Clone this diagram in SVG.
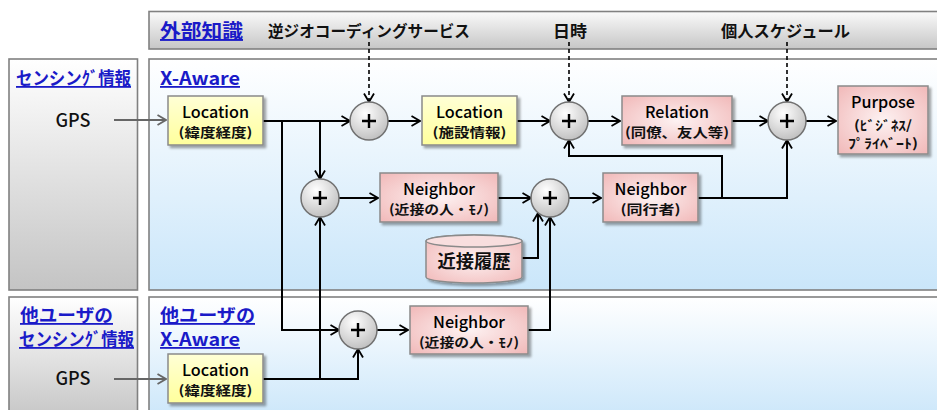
<svg xmlns="http://www.w3.org/2000/svg" width="937" height="410" viewBox="0 0 937 410">
<defs>
<linearGradient id="gGray" x1="0" y1="0" x2="0" y2="1"><stop offset="0" stop-color="#ffffff"/><stop offset="1" stop-color="#c4c4c4"/></linearGradient>
<linearGradient id="gBar" x1="0" y1="0" x2="0" y2="1"><stop offset="0" stop-color="#fafafa"/><stop offset="1" stop-color="#c6c6c6"/></linearGradient>
<linearGradient id="gBlue" x1="0" y1="0" x2="0" y2="1"><stop offset="0" stop-color="#ffffff"/><stop offset="1" stop-color="#cae6fa"/></linearGradient>
<linearGradient id="gYel" x1="0" y1="0" x2="0" y2="1"><stop offset="0" stop-color="#ffffd6"/><stop offset="1" stop-color="#ffff9c"/></linearGradient>
<radialGradient id="gPink" cx="0.5" cy="0.5" r="0.75"><stop offset="0" stop-color="#fdf2f2"/><stop offset="1" stop-color="#f0b4b4"/></radialGradient>
<radialGradient id="gCirc" cx="0.4" cy="0.3" r="0.75"><stop offset="0" stop-color="#ffffff"/><stop offset="1" stop-color="#bdbdbd"/></radialGradient>
<filter id="sh" x="-10%" y="-10%" width="130%" height="140%"><feDropShadow dx="2.5" dy="2.5" stdDeviation="1.2" flood-color="#000" flood-opacity="0.35"/></filter>
<marker id="arr" viewBox="0 0 10 12" refX="9.5" refY="6" markerWidth="10" markerHeight="12" markerUnits="userSpaceOnUse" orient="auto"><path d="M1,1 L9.5,6 L1,11" fill="none" stroke="#000" stroke-width="1.8"/></marker>
<marker id="arrG" viewBox="0 0 10 12" refX="9.5" refY="6" markerWidth="10" markerHeight="12" markerUnits="userSpaceOnUse" orient="auto"><path d="M1,1 L9.5,6 L1,11" fill="none" stroke="#666" stroke-width="1.8"/></marker>
</defs>
<style>
.panel{stroke:#808080;stroke-width:1.6}
.hdr{font-family:"Noto Sans CJK JP","Noto Sans",sans-serif;font-weight:bold;fill:#1a1ac8;text-decoration:underline}
.lbl{font-family:"Noto Sans CJK JP","Noto Sans",sans-serif;font-weight:bold;fill:#111}
.t{font-family:"Noto Sans CJK JP","Noto Sans",sans-serif;font-size:16px;font-weight:500;fill:#000;text-anchor:middle}
.s{font-family:"Noto Sans CJK JP","Noto Sans",sans-serif;font-size:13px;font-weight:bold;fill:#111;text-anchor:middle}
.yel{fill:url(#gYel);stroke:#8a8a8a;stroke-width:1.5;filter:url(#sh)}
.pink{fill:url(#gPink);stroke:#8a8a8a;stroke-width:1.5;filter:url(#sh)}
.circ{fill:url(#gCirc);stroke:#707070;stroke-width:1.5}
.plus{stroke:#000;stroke-width:2.4;fill:none}
.c{fill:none;stroke:#000;stroke-width:2;marker-end:url(#arr)}
.cg{fill:none;stroke:#666;stroke-width:2;marker-end:url(#arrG)}
.cd{fill:none;stroke:#000;stroke-width:1.6;stroke-dasharray:4 3;marker-end:url(#arr)}
</style>
<rect width="937" height="410" fill="#ffffff"/>

<g id="panels">
<rect id="bar" class="panel" x="149" y="11.5" width="800" height="37.5" fill="url(#gBar)"/>
<rect id="sensing" class="panel" x="9" y="59" width="128.5" height="231" fill="url(#gGray)"/>
<rect id="xaware" class="panel" x="149" y="59" width="800" height="231" fill="url(#gBlue)"/>
<rect id="sensing2" class="panel" x="9" y="297" width="128.5" height="125" fill="url(#gGray)"/>
<rect id="xaware2" class="panel" x="149" y="297" width="800" height="125" fill="url(#gBlue)"/>
</g>

<g id="labels">
<text class="hdr" x="160" y="38" font-size="19" textLength="83" lengthAdjust="spacingAndGlyphs">外部知識</text>
<text class="lbl" x="268" y="37" font-size="15.5" textLength="202" lengthAdjust="spacingAndGlyphs">逆ジオコーディングサービス</text>
<text class="lbl" x="553" y="37" font-size="16" textLength="34" lengthAdjust="spacingAndGlyphs">日時</text>
<text class="lbl" x="721" y="37" font-size="16" textLength="129" lengthAdjust="spacingAndGlyphs">個人スケジュール</text>
<text class="hdr" x="16" y="85" font-size="18" textLength="115" lengthAdjust="spacingAndGlyphs">センシンｸﾞ情報</text>
<text class="hdr" x="160" y="85" font-size="18" textLength="80" lengthAdjust="spacingAndGlyphs">X-Aware</text>
<text class="lbl" x="73" y="127" font-size="18" text-anchor="middle" style="font-weight:500">GPS</text>
<text class="hdr" x="20" y="322" font-size="18" textLength="93" lengthAdjust="spacingAndGlyphs">他ユーザの</text>
<text class="hdr" x="19" y="346" font-size="18" textLength="115" lengthAdjust="spacingAndGlyphs">センシンｸﾞ情報</text>
<text class="hdr" x="160" y="322" font-size="18" textLength="95" lengthAdjust="spacingAndGlyphs">他ユーザの</text>
<text class="hdr" x="160" y="346" font-size="18" textLength="80" lengthAdjust="spacingAndGlyphs">X-Aware</text>
<text class="lbl" x="73" y="385" font-size="18" text-anchor="middle" style="font-weight:500">GPS</text>
</g>

<g id="connectors">
<path class="cg" d="M114,120 H166"/>
<path class="cg" d="M114,379 H166"/>
<path class="c" d="M263,121 H350"/>
<path class="c" d="M282,121 V330 H339"/>
<path class="c" d="M320,121 V179"/>
<path class="c" d="M388,121 H420"/>
<path class="c" d="M517,121 H550"/>
<path class="c" d="M588,121 H620"/>
<path class="c" d="M732,121 H768"/>
<path class="c" d="M806,121 H836"/>
<path class="c" d="M339,198 H378"/>
<path class="c" d="M498,198 H531"/>
<path class="c" d="M569,198 H601"/>
<path class="c" d="M698,198 H787 V140"/>
<path class="c" d="M722,198 V156 H569 V140"/>
<path class="c" d="M522,258 H538 V213"/>
<path class="c" d="M528,330 H550 V217"/>
<path class="c" d="M263,379 H358 V349"/>
<path class="c" d="M320,379 V217"/>
<path class="c" d="M377,330 H408"/>
<path class="cd" d="M369,42 V102"/>
<path class="cd" d="M569,42 V102"/>
<path class="cd" d="M787,42 V102"/>
</g>

<g id="loc1">
<rect class="yel" x="168" y="96" width="95" height="49"/>
<text class="t" x="215.5" y="118" textLength="67" lengthAdjust="spacingAndGlyphs">Location</text>
<text class="s" x="215.5" y="137" textLength="74" lengthAdjust="spacingAndGlyphs">(緯度経度)</text>
</g>
<g id="plus1"><circle class="circ" cx="369" cy="121" r="19"/><path class="plus" d="M362,121 H376 M369,114 V128"/></g>
<g id="loc2">
<rect class="yel" x="422" y="96" width="95" height="49"/>
<text class="t" x="469.5" y="118" textLength="67" lengthAdjust="spacingAndGlyphs">Location</text>
<text class="s" x="469.5" y="137" textLength="74" lengthAdjust="spacingAndGlyphs">(施設情報)</text>
</g>
<g id="plus2"><circle class="circ" cx="569" cy="121" r="19"/><path class="plus" d="M562,121 H576 M569,114 V128"/></g>
<g id="relation">
<rect class="pink" x="622" y="96" width="110" height="49"/>
<text class="t" x="677" y="118" textLength="64" lengthAdjust="spacingAndGlyphs">Relation</text>
<text class="s" x="677" y="137" textLength="104" lengthAdjust="spacingAndGlyphs">(同僚、友人等)</text>
</g>
<g id="plus3"><circle class="circ" cx="787" cy="121" r="19"/><path class="plus" d="M780,121 H794 M787,114 V128"/></g>
<g id="purpose">
<rect class="pink" x="838" y="86" width="90" height="68"/>
<text class="t" x="883" y="108" textLength="64" lengthAdjust="spacingAndGlyphs">Purpose</text>
<text class="s" x="883" y="130" textLength="58" lengthAdjust="spacingAndGlyphs">(ﾋﾞｼﾞﾈｽ/</text>
<text class="s" x="883" y="148" textLength="70" lengthAdjust="spacingAndGlyphs">ﾌﾟﾗｲﾍﾞｰﾄ)</text>
</g>
<g id="plus4"><circle class="circ" cx="320" cy="198" r="19"/><path class="plus" d="M313,198 H327 M320,191 V205"/></g>
<g id="neighbor1">
<rect class="pink" x="380" y="173" width="118" height="49"/>
<text class="t" x="439" y="195" textLength="72" lengthAdjust="spacingAndGlyphs">Neighbor</text>
<text class="s" x="439" y="214" textLength="100" lengthAdjust="spacingAndGlyphs">(近接の人・ﾓﾉ)</text>
</g>
<g id="plus5"><circle class="circ" cx="550" cy="198" r="19"/><path class="plus" d="M543,198 H557 M550,191 V205"/></g>
<g id="neighbor2">
<rect class="pink" x="603" y="173" width="95" height="49"/>
<text class="t" x="650.5" y="195" textLength="72" lengthAdjust="spacingAndGlyphs">Neighbor</text>
<text class="s" x="650.5" y="214" textLength="60" lengthAdjust="spacingAndGlyphs">(同行者)</text>
</g>
<g id="history">
<path d="M426,241 V277 A48,6 0 0 0 522,277 V241 A48,6 0 0 0 426,241 Z" fill="url(#gPink)" stroke="#8a8a8a" stroke-width="1.5" filter="url(#sh)"/>
<ellipse cx="474" cy="241" rx="48" ry="6" fill="#f8dede" stroke="#8a8a8a" stroke-width="1.5"/>
<text class="lbl" x="474" y="268" font-size="18" text-anchor="middle" textLength="73" lengthAdjust="spacingAndGlyphs">近接履歴</text>
</g>
<g id="loc3">
<rect class="yel" x="168" y="354" width="95" height="49"/>
<text class="t" x="215.5" y="376" textLength="67" lengthAdjust="spacingAndGlyphs">Location</text>
<text class="s" x="215.5" y="395" textLength="74" lengthAdjust="spacingAndGlyphs">(緯度経度)</text>
</g>
<g id="plus6"><circle class="circ" cx="358" cy="330" r="19"/><path class="plus" d="M351,330 H365 M358,323 V337"/></g>
<g id="neighbor3">
<rect class="pink" x="410" y="306" width="118" height="48"/>
<text class="t" x="469" y="328" textLength="72" lengthAdjust="spacingAndGlyphs">Neighbor</text>
<text class="s" x="469" y="347" textLength="100" lengthAdjust="spacingAndGlyphs">(近接の人・ﾓﾉ)</text>
</g>
</svg>
